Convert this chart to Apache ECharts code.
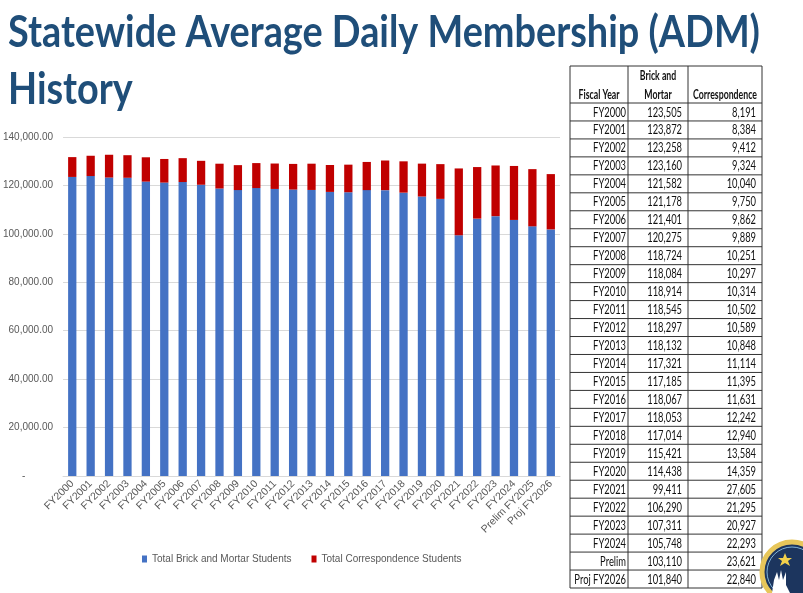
<!DOCTYPE html>
<html>
<head>
<meta charset="utf-8">
<script src="https://cdn.jsdelivr.net/npm/echarts@6/dist/echarts.min.js"></script>
<style>
html,body{margin:0;padding:0;background:#fff;}
#chart{width:803px;height:593px;}
</style>
</head>
<body>
<div id="chart"></div>
<script>
// ---- Data ----
var categories = ['FY2000','FY2001','FY2002','FY2003','FY2004','FY2005','FY2006','FY2007','FY2008','FY2009','FY2010','FY2011','FY2012','FY2013','FY2014','FY2015','FY2016','FY2017','FY2018','FY2019','FY2020','FY2021','FY2022','FY2023','FY2024','Prelim FY2025','Proj FY2026'];
var tableYears = ['FY2000','FY2001','FY2002','FY2003','FY2004','FY2005','FY2006','FY2007','FY2008','FY2009','FY2010','FY2011','FY2012','FY2013','FY2014','FY2015','FY2016','FY2017','FY2018','FY2019','FY2020','FY2021','FY2022','FY2023','FY2024','Prelim','Proj FY2026'];
var brickMortar = [123505,123872,123258,123160,121582,121178,121401,120275,118724,118084,118914,118545,118297,118132,117321,117185,118067,118053,117014,115421,114438,99411,106290,107311,105748,103110,101840];
var correspondence = [8191,8384,9412,9324,10040,9750,9862,9889,10251,10297,10314,10502,10589,10848,11114,11395,11631,12242,12940,13584,14359,27605,21295,20927,22293,23621,22840];
var seriesNames = ['Total Brick and Mortar Students','Total Correspondence Students'];
var titleLines = ['Statewide Average Daily Membership (ADM)','History'];
var tableHeader = ['Fiscal Year','Brick and','Mortar','Correspondence'];

function fmt(v){ return v.toLocaleString('en-US'); }

var chart = echarts.init(document.getElementById('chart'));

// ---- Title graphic (scaled to fit the reference width) ----
var titleFont = 'bold 43px Lato';
var cv = document.createElement('canvas').getContext('2d');
cv.font = titleFont;
var w1 = cv.measureText(titleLines[0]).width;
var sx = 752 / w1;
var graphics = [];
graphics.push({type:'text', x:8, y:12, scaleX:sx, style:{text:titleLines[0], font:titleFont, fill:'#1F4E79'}});
graphics.push({type:'text', x:8, y:69, scaleX:sx, style:{text:titleLines[1], font:titleFont, fill:'#1F4E79'}});

// ---- Table graphic ----
var tX = [570, 628, 688, 762];
var tTop = 66, hdrBottom = 103, rowH = (588 - 103) / tableYears.length;
var tBottom = hdrBottom + rowH * tableYears.length;
var tFont = '12.5px Lato, sans-serif';
var tFontB = 'bold 12.5px Lato, sans-serif';
var tsx = 0.75, hsx = 0.7;
var lineStyle = {stroke:'#333', lineWidth:1};
for (var c = 0; c < tX.length; c++) {
  graphics.push({type:'line', shape:{x1:tX[c], y1:tTop, x2:tX[c], y2:tBottom}, style:lineStyle, silent:true});
}
graphics.push({type:'line', shape:{x1:tX[0], y1:tTop, x2:tX[3], y2:tTop}, style:lineStyle, silent:true});
for (var r = 0; r <= tableYears.length; r++) {
  var yy = hdrBottom + rowH * r;
  graphics.push({type:'line', shape:{x1:tX[0], y1:yy, x2:tX[3], y2:yy}, style:lineStyle, silent:true});
}
// header
graphics.push({type:'text', x:(tX[0]+tX[1])/2, y:95, scaleX:hsx, style:{text:tableHeader[0], font:tFontB, fill:'#111', align:'center', verticalAlign:'middle'}});
graphics.push({type:'text', x:(tX[1]+tX[2])/2, y:76, scaleX:hsx, style:{text:tableHeader[1], font:tFontB, fill:'#111', align:'center', verticalAlign:'middle'}});
graphics.push({type:'text', x:(tX[1]+tX[2])/2, y:95, scaleX:hsx, style:{text:tableHeader[2], font:tFontB, fill:'#111', align:'center', verticalAlign:'middle'}});
graphics.push({type:'text', x:(tX[2]+tX[3])/2, y:95, scaleX:hsx, style:{text:tableHeader[3], font:tFontB, fill:'#111', align:'center', verticalAlign:'middle'}});
// rows
for (var i = 0; i < tableYears.length; i++) {
  var cy = hdrBottom + rowH * i + rowH / 2 + 0.5;
  graphics.push({type:'text', x:tX[1]-2, y:cy, scaleX:tsx, style:{text:tableYears[i], font:tFont, fill:'#111', align:'right', verticalAlign:'middle'}});
  graphics.push({type:'text', x:tX[2]-6, y:cy, scaleX:tsx, style:{text:fmt(brickMortar[i]), font:tFont, fill:'#111', align:'right', verticalAlign:'middle'}});
  graphics.push({type:'text', x:tX[3]-6, y:cy, scaleX:tsx, style:{text:fmt(correspondence[i]), font:tFont, fill:'#111', align:'right', verticalAlign:'middle'}});
}

// ---- Seal (decorative) ----
graphics.push({type:'circle', shape:{cx:792, cy:572, r:30}, style:{fill:'#1C355E', stroke:'#E7C65A', lineWidth:5}, silent:true});
graphics.push({type:'circle', shape:{cx:792, cy:572, r:25}, style:{fill:'#1C355E', stroke:'#7FB3D9', lineWidth:1}, silent:true});
graphics.push({type:'polygon', shape:{points:[[785,553],[787,558],[792,558],[788,561],[790,566],[785,563],[780,566],[782,561],[778,558],[783,558]]}, style:{fill:'#F2D04B'}, silent:true});
graphics.push({type:'polygon', shape:{points:[[772,593],[774,580],[777,572],[779,580],[781,570],[783,580],[786,572],[786,585],[790,593]]}, style:{fill:'#ffffff'}, silent:true});

var option = {
  animation: false,
  backgroundColor: '#ffffff',
  color: ['#4472C4', '#C00000'],
  textStyle: {fontFamily: '"Liberation Sans", Arial, sans-serif'},
  grid: {left: 58, right: 243, top: 137, bottom: 117, containLabel: false},
  legend: {
    left: 137, top: 549,
    itemWidth: 5, itemHeight: 7, itemGap: 20, icon: 'rect',
    textStyle: {color: '#595959', fontSize: 10, fontFamily: '"Liberation Sans", Arial, sans-serif'},
    data: seriesNames
  },
  xAxis: {
    type: 'category',
    data: categories,
    axisLine: {show: true, lineStyle: {color: '#D9D9D9'}},
    axisTick: {show: false},
    axisLabel: {rotate: 45, color: '#595959', fontSize: 10.5, interval: 0, margin: 6, fontFamily: '"Liberation Sans", Arial, sans-serif'}
  },
  yAxis: {
    type: 'value',
    min: 0, max: 140000, interval: 20000,
    axisLine: {show: false},
    axisTick: {show: false},
    splitLine: {lineStyle: {color: '#D9D9D9'}},
    axisLabel: {
      color: '#595959', fontSize: 10, margin: 10, fontFamily: '"Liberation Sans", Arial, sans-serif',
      formatter: function (v) {
        if (v === 0) return '-          ';
        return v.toLocaleString('en-US', {minimumFractionDigits: 2, maximumFractionDigits: 2});
      }
    }
  },
  series: [
    {name: seriesNames[0], type: 'bar', stack: 'adm', data: brickMortar, barWidth: '45%'},
    {name: seriesNames[1], type: 'bar', stack: 'adm', data: correspondence, barWidth: '45%'}
  ],
  graphic: graphics
};
chart.setOption(option);
</script>
</body>
</html>
